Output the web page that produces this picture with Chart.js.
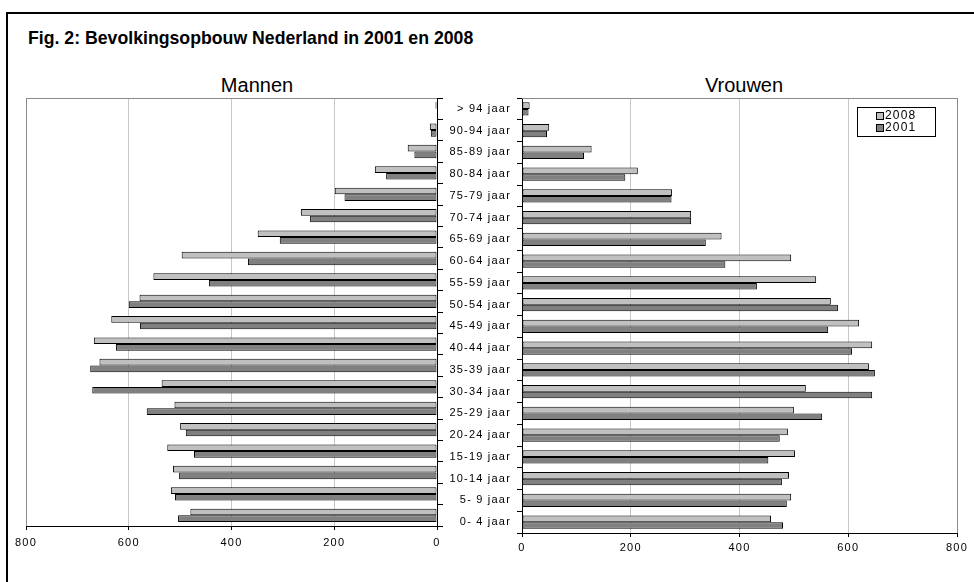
<!DOCTYPE html>
<html>
<head>
<meta charset="utf-8">
<script src="https://cdn.jsdelivr.net/npm/chart.js@4.4.0/dist/chart.umd.min.js"></script>
<style>
  html, body { margin: 0; padding: 0; overflow: hidden; background: #fff; }
  body { font-family: Arial, "Liberation Sans", sans-serif; color: #000; }
  #frame { position: absolute; left: 6px; top: 12px; width: 1000px; height: 620px; border: 2px solid #000; }
  #title { position: absolute; left: 28px; top: 29px; font-size: 17.7px; font-weight: bold; line-height: 18px; white-space: nowrap; }
  .panel-title { position: absolute; top: 75px; width: 200px; font-size: 20px; line-height: 20px; text-align: center; }
  .box { position: absolute; top: 80px; height: 480px; }
</style>
</head>
<body>
  <div id="frame"></div>
  <div id="title">Fig. 2: Bevolkingsopbouw Nederland in 2001 en 2008</div>
  <div class="panel-title" style="left:157px">Mannen</div>
  <div class="panel-title" style="left:644px">Vrouwen</div>

  <div class="box" style="left:0; width:452px"><canvas id="men"></canvas></div>
  <div class="box" style="left:440px; width:534px"><canvas id="women"></canvas></div>

<script>
  // leeftijdsgroepen, van boven naar beneden (x 1000 personen)
  var ageGroups = ['> 94 jaar', '90-94 jaar', '85-89 jaar', '80-84 jaar', '75-79 jaar',
    '70-74 jaar', '65-69 jaar', '60-64 jaar', '55-59 jaar', '50-54 jaar',
    '45-49 jaar', '40-44 jaar', '35-39 jaar', '30-34 jaar', '25-29 jaar',
    '20-24 jaar', '15-19 jaar', '10-14 jaar', '5- 9 jaar', '0- 4 jaar'];

  var men2008 = [3, 14, 57, 121, 199, 265, 349, 497, 552, 579, 634, 668, 657, 536, 511, 500, 525, 514, 518, 480];
  var men2001 = [1, 12, 44, 99, 180, 247, 306, 368, 444, 600, 578, 625, 675, 671, 565, 489, 473, 502, 510, 504];
  var women2008 = [14, 50, 128, 213, 276, 311, 367, 495, 541, 568, 620, 644, 638, 522, 500, 489, 502, 491, 495, 458];
  var women2001 = [12, 46, 114, 190, 275, 311, 338, 374, 432, 581, 563, 607, 649, 644, 552, 474, 453, 478, 487, 480];

  var seriesLabels = ['2008', '2001'];
  var seriesColors = ['#c0c0c0', '#808080'];
  var axisMax = 800;
  var axisStep = 200;

  Chart.defaults.font.family = 'Arial, "Liberation Sans", sans-serif';
  Chart.defaults.font.size = 11;
  Chart.defaults.color = '#000';

  // Excel-achtige tekst: iets uitgerekt
  var spacing = {
    id: 'spacing',
    beforeLayout: function(chart) { chart.ctx.letterSpacing = '1.2px'; },
    beforeDraw: function(chart) { chart.ctx.letterSpacing = '1.2px'; }
  };

  // grijze bovenrand van het tekengebied
  var topLine = {
    id: 'topLine',
    beforeDatasetsDraw: function(chart) {
      var a = chart.chartArea, ctx = chart.ctx;
      ctx.save();
      ctx.strokeStyle = '#8c8c8c';
      ctx.lineWidth = 1;
      ctx.beginPath();
      ctx.moveTo(a.left, a.top + 0.5);
      ctx.lineTo(a.right, a.top + 0.5);
      ctx.stroke();
      ctx.restore();
    }
  };

  var boxLegend = {
    id: 'boxLegend',
    afterDatasetsDraw: function(chart) {
      var a = chart.chartArea, ctx = chart.ctx;
      var w = 78, h = 29;
      var x = Math.round(a.right - 22 - w), y = Math.round(a.top + 9);
      ctx.save();
      ctx.fillStyle = '#fff';
      ctx.fillRect(x, y, w, h);
      ctx.strokeStyle = '#000';
      ctx.lineWidth = 1;
      ctx.strokeRect(x + 0.5, y + 0.5, w, h);
      ctx.font = '12px Arial, "Liberation Sans", sans-serif';
      ctx.letterSpacing = '1.2px';
      ctx.textBaseline = 'middle';
      chart.data.datasets.forEach(function(ds, i) {
        var cy = y + 9 + i * 12;
        ctx.fillStyle = ds.backgroundColor;
        ctx.fillRect(x + 19, cy - 4, 7, 7);
        ctx.strokeRect(x + 19.5, cy - 3.5, 7, 7);
        ctx.fillStyle = '#000';
        ctx.fillText(ds.label, x + 28, cy);
      });
      ctx.restore();
    }
  };

  function gridColor(c) {
    if (!c.tick) return '#c8c8c8';
    if (c.tick.value === 0) return '#000';
    if (c.tick.value === axisMax) return '#8c8c8c';
    return '#c8c8c8';
  }

  function makeDatasets(a, b) {
    return [a, b].map(function(values, i) {
      return {
        label: seriesLabels[i],
        data: values,
        backgroundColor: seriesColors[i],
        borderColor: '#000',
        borderWidth: 1,
        borderSkipped: false,
        categoryPercentage: 0.62,
        barPercentage: 1
      };
    });
  }

  new Chart(document.getElementById('men'), {
    type: 'bar',
    data: { labels: ageGroups, datasets: makeDatasets(men2008, men2001) },
    options: {
      indexAxis: 'y',
      responsive: true,
      maintainAspectRatio: false,
      animation: false,
      layout: { padding: { left: 26, top: 18, right: 0, bottom: 0 } },
      plugins: { legend: { display: false }, tooltip: { enabled: false } },
      scales: {
        x: {
          reverse: true, min: 0, max: axisMax,
          ticks: { stepSize: axisStep, padding: 6, maxRotation: 0 },
          grid: { color: gridColor, tickColor: '#000', tickLength: 4 },
          border: { color: '#000' },
          afterFit: function(s) { s.height = 34; }
        },
        y: {
          position: 'right',
          ticks: { display: false },
          grid: { drawOnChartArea: false, tickColor: '#000', tickLength: 6, offset: true },
          border: { color: '#000' },
          afterFit: function(s) { s.width = 15; }
        }
      }
    },
    plugins: [spacing, topLine]
  });

  new Chart(document.getElementById('women'), {
    type: 'bar',
    data: { labels: ageGroups, datasets: makeDatasets(women2008, women2001) },
    options: {
      indexAxis: 'y',
      responsive: true,
      maintainAspectRatio: false,
      animation: false,
      layout: { padding: { left: 0, top: 18, right: 17, bottom: 0 } },
      plugins: { legend: { display: false }, tooltip: { enabled: false } },
      scales: {
        x: {
          min: 0, max: axisMax,
          ticks: { stepSize: axisStep, padding: 4, maxRotation: 0 },
          grid: { color: gridColor, tickColor: '#000', tickLength: 4 },
          border: { color: '#000' },
          afterFit: function(s) { s.height = 27; }
        },
        y: {
          position: 'left',
          ticks: { padding: 6, autoSkip: false },
          grid: { drawOnChartArea: false, tickColor: '#000', tickLength: 5, offset: true },
          border: { color: '#000' },
          afterFit: function(s) { s.width = 82; }
        }
      }
    },
    plugins: [spacing, topLine, boxLegend]
  });
</script>
</body>
</html>
